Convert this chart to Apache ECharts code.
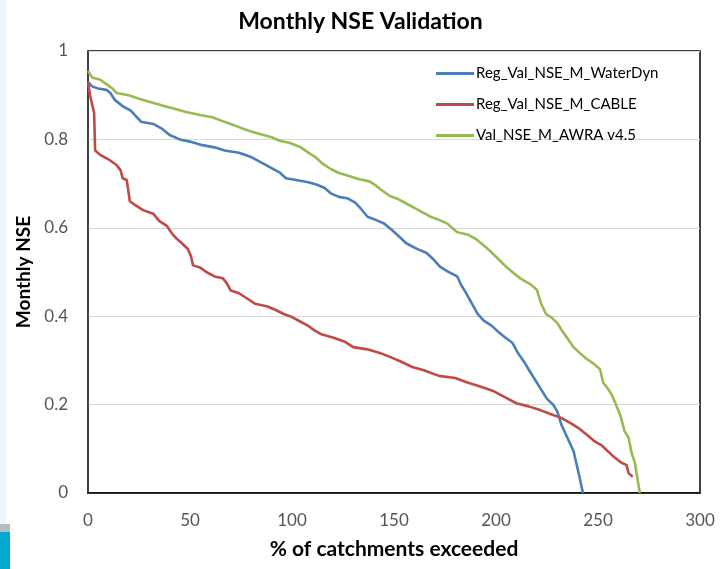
<!DOCTYPE html>
<html><head><meta charset="utf-8">
<script src="https://cdn.jsdelivr.net/npm/echarts@6/dist/echarts.min.js"></script>
<style>html,body{margin:0;padding:0;background:#fff}#c{width:721px;height:569px}</style>
</head><body><div id="c"></div>
<script>
const seriesNames = ['Reg_Val_NSE_M_WaterDyn', 'Reg_Val_NSE_M_CABLE', 'Val_NSE_M_AWRA v4.5'];
const xTicks = [0, 50, 100, 150, 200, 250, 300];
const yTicks = [0, 0.2, 0.4, 0.6, 0.8, 1];

const waterDyn = [
 [0,0.93],[2,0.92],[5,0.915],[9,0.912],[11,0.905],[13,0.89],[17,0.875],[21,0.865],[24,0.85],[26,0.84],[32,0.835],[36,0.825],[40,0.81],[45,0.80],[50,0.795],[56,0.787],[62,0.782],[67,0.775],[74,0.77],[80,0.76],[86,0.745],[90,0.735],[94,0.725],[97,0.712],[102,0.708],[108,0.703],[112,0.698],[116,0.69],[119,0.678],[123,0.67],[127,0.667],[131,0.657],[134,0.642],[137,0.625],[141,0.618],[145,0.61],[149,0.595],[153,0.578],[156,0.565],[161,0.553],[166,0.543],[169,0.53],[172.5,0.512],[176,0.502],[181,0.49],[183,0.47],[185,0.455],[188,0.43],[191,0.405],[194,0.39],[198,0.378],[201,0.365],[205,0.35],[208,0.34],[211,0.315],[214,0.295],[217,0.272],[220,0.25],[222,0.235],[225,0.213],[228,0.2],[230,0.185],[232,0.155],[234,0.135],[236,0.115],[238,0.095],[239.5,0.065],[241,0.035],[242.6,0]
];
const cable = [
 [0,0.93],[1,0.9],[2,0.88],[3,0.86],[3.5,0.775],[6,0.765],[10,0.755],[14,0.742],[16,0.73],[17,0.712],[19,0.708],[20.5,0.66],[23,0.652],[27,0.64],[32,0.632],[35,0.615],[38.5,0.605],[41,0.588],[43.5,0.575],[46,0.565],[49,0.552],[50.5,0.535],[51.5,0.515],[55,0.51],[58,0.5],[62,0.49],[66,0.486],[68,0.475],[70,0.458],[74,0.452],[78,0.44],[82,0.428],[88,0.422],[92,0.414],[96,0.405],[100,0.398],[104,0.388],[108,0.378],[111,0.368],[114,0.36],[120,0.352],[126,0.342],[130,0.33],[137,0.325],[143,0.317],[148,0.308],[153,0.298],[159,0.285],[165,0.277],[172,0.265],[180,0.26],[186,0.25],[193,0.24],[199,0.23],[205,0.215],[210,0.203],[216,0.196],[222,0.187],[227,0.178],[232,0.17],[237,0.157],[241,0.145],[245,0.13],[248,0.118],[252,0.107],[257,0.085],[261,0.07],[264,0.063],[265,0.045],[267,0.037]
];
const awra = [
 [0,0.955],[2,0.94],[6,0.935],[9,0.925],[12,0.915],[14,0.905],[20,0.9],[25,0.892],[30,0.885],[36,0.877],[42,0.87],[48,0.862],[55,0.855],[61,0.85],[65,0.843],[70,0.835],[75,0.826],[80,0.818],[86,0.81],[90,0.805],[94,0.797],[99,0.792],[104,0.783],[108,0.77],[112,0.758],[115,0.745],[119,0.733],[123,0.724],[128,0.717],[133,0.71],[138,0.705],[141,0.696],[144,0.685],[148,0.672],[152,0.665],[156,0.655],[160,0.645],[164,0.635],[168,0.625],[172,0.618],[176,0.61],[179,0.598],[181,0.59],[186,0.585],[190,0.575],[194,0.56],[197,0.548],[201,0.53],[205,0.512],[208,0.5],[212,0.485],[217,0.472],[220,0.46],[222,0.43],[224.5,0.405],[227,0.398],[230,0.385],[232,0.37],[235,0.35],[238,0.33],[241,0.317],[244,0.305],[248,0.292],[251,0.28],[252.5,0.25],[255,0.235],[257,0.22],[259,0.198],[261,0.175],[263,0.14],[265,0.125],[266.5,0.09],[268,0.07],[270.5,0]
];

const FONT = 'Lato, "Open Sans", sans-serif';
const chart = echarts.init(document.getElementById('c'), null, {renderer: 'canvas'});
const mk = (name, data, color) => ({
  name, type: 'line', data, showSymbol: false, symbol: 'none',
  lineStyle: {color, width: 2.6}, itemStyle: {color}, z: 3
});
chart.setOption({
  backgroundColor: '#ffffff',
  animation: false,
  title: {
    text: 'Monthly NSE Validation', left: 'center', top: 5,
    textStyle: {fontFamily: FONT, fontSize: 23, fontWeight: 'bold', color: '#000'}
  },
  graphic: [
    {type: 'rect', shape: {x: 0, y: 0, width: 6, height: 525}, style: {fill: '#eef6fb'}, silent: true},
    {type: 'rect', shape: {x: 0, y: 524, width: 10, height: 8}, style: {fill: '#b9bcbf'}, silent: true},
    {type: 'rect', shape: {x: 0, y: 532, width: 10, height: 37}, style: {fill: '#03a9cf'}, silent: true}
  ],
  legend: {
    orient: 'vertical', left: 431, top: 61, itemGap: 16,
    icon: 'rect', itemWidth: 38, itemHeight: 3,
    textStyle: {fontFamily: FONT, fontSize: 15, color: '#000', padding: [0, 0, 0, -3]},
    data: seriesNames
  },
  grid: {left: 88, right: 21, top: 51, bottom: 76, show: true, borderColor: '#000', borderWidth: 1.5, containLabel: false},
  xAxis: {
    type: 'value', min: xTicks[0], max: xTicks[xTicks.length - 1], interval: 50,
    name: '% of catchments exceeded', nameLocation: 'middle', nameGap: 46,
    nameTextStyle: {fontFamily: FONT, fontSize: 21, fontWeight: 'bold', color: '#000'},
    axisLine: {show: true, lineStyle: {color: '#000', width: 1.5}},
    axisTick: {show: false},
    axisLabel: {fontFamily: FONT, fontSize: 17, color: '#555', margin: 19},
    splitLine: {show: false}
  },
  yAxis: {
    type: 'value', min: yTicks[0], max: yTicks[yTicks.length - 1], interval: 0.2,
    name: 'Monthly NSE', nameLocation: 'middle', nameGap: 52,
    nameTextStyle: {fontFamily: FONT, fontSize: 19, fontWeight: 'bold', color: '#000'},
    axisLine: {show: true, lineStyle: {color: '#444', width: 1.5}},
    axisTick: {show: false},
    axisLabel: {fontFamily: FONT, fontSize: 17, color: '#555', margin: 20},
    splitLine: {show: true, lineStyle: {color: '#d9d9d9', width: 1}}
  },
  series: [
    mk(seriesNames[0], waterDyn, '#4a7ebb'),
    mk(seriesNames[1], cable, '#be4b48'),
    mk(seriesNames[2], awra, '#98b954')
  ]
});
</script></body></html>
